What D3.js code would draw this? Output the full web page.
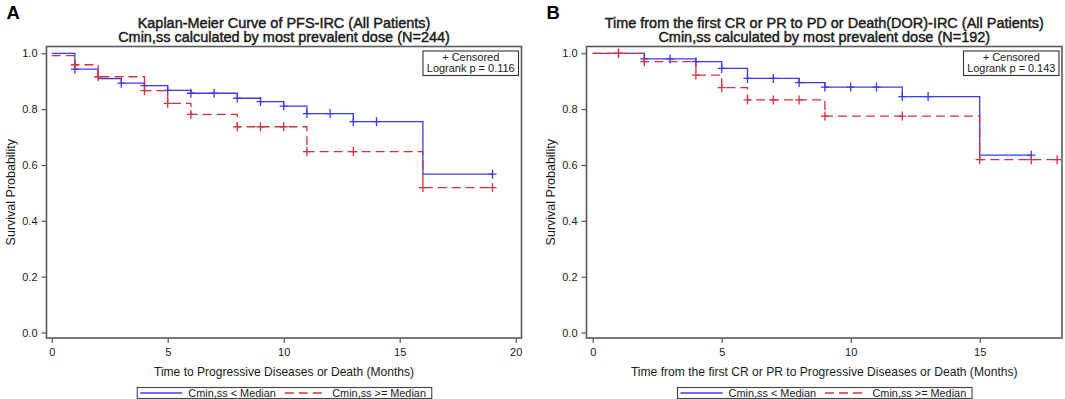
<!DOCTYPE html>
<html>
<head>
<meta charset="utf-8">
<script src="https://cdn.jsdelivr.net/npm/d3@7"></script>
<style>
  body { margin: 0; background: #fff; }
  text { font-family: "Liberation Sans", Arial, sans-serif; fill: #1a1a1a; }
</style>
</head>
<body>
<div id="chart"></div>
<script>
// ---- Panel A : PFS-IRC (step starts, survival level from that time on; last entry = end of follow-up)
const pfsLowTime = [0, 1, 2, 3, 4, 5, 6, 8, 9, 10, 11, 13, 16, 19]
const pfsLowSurv = [1.000, 0.943, 0.909, 0.893, 0.884, 0.867, 0.857, 0.839, 0.827, 0.811, 0.784, 0.755, 0.567, 0.567]
const pfsLowCens = [1, 3, 4, 5, 6, 7, 8, 9, 10, 11, 12, 13, 14, 19]

const pfsHighTime = [0, 1, 2, 4, 5, 6, 8, 11, 16, 19]
const pfsHighSurv = [0.992, 0.959, 0.916, 0.866, 0.821, 0.781, 0.737, 0.648, 0.519, 0.519]
const pfsHighCens = [1, 2, 4, 5, 6, 8, 9, 10, 11, 13, 16, 19]

// ---- Panel B : DOR-IRC
const dorLowTime = [0, 2, 4, 5, 6, 8, 9, 12, 15, 17]
const dorLowSurv = [1.000, 0.980, 0.970, 0.946, 0.910, 0.895, 0.879, 0.845, 0.635, 0.635]
const dorLowCens = [1, 2, 3, 4, 5, 6, 7, 8, 9, 10, 11, 12, 13, 17]

const dorHighTime = [0, 2, 4, 5, 6, 9, 15, 18]
const dorHighSurv = [1.000, 0.970, 0.922, 0.877, 0.833, 0.775, 0.619, 0.619]
const dorHighCens = [1, 2, 4, 5, 6, 7, 8, 9, 12, 15, 17, 18]

const groupNames = ["Cmin,ss < Median", "Cmin,ss >= Median"]
const yTicks = [0, 0.2, 0.4, 0.6, 0.8, 1.0]
const pfsXTicks = [0, 5, 10, 15, 20]
const dorXTicks = [0, 5, 10, 15]

const panels = [
  {
    letter: "A",
    title: ["Kaplan-Meier Curve of PFS-IRC (All Patients)", "Cmin,ss calculated by most prevalent dose (N=244)"],
    xLabel: "Time to Progressive Diseases or Death (Months)",
    pvalue: "Logrank p = 0.116",
    xMax: 20, xTicks: pfsXTicks,
    left: 46.5, right: 521.5, padL: 5.2, padR: 5.8,
    series: [
      { time: pfsLowTime, surv: pfsLowSurv, cens: pfsLowCens, g: 0 },
      { time: pfsHighTime, surv: pfsHighSurv, cens: pfsHighCens, g: 1 }
    ]
  },
  {
    letter: "B",
    title: ["Time from the first CR or PR to PD or Death(DOR)-IRC (All Patients)", "Cmin,ss calculated by most prevalent dose (N=192)"],
    xLabel: "Time from the first CR or PR to Progressive Diseases or Death (Months)",
    pvalue: "Logrank p = 0.143",
    xMax: 18, xTicks: dorXTicks,
    left: 586.5, right: 1062, padL: 6.2, padR: 4.9,
    series: [
      { time: dorLowTime, surv: dorLowSurv, cens: dorLowCens, g: 0 },
      { time: dorHighTime, surv: dorHighSurv, cens: dorHighCens, g: 1 }
    ]
  }
]

const colors = ["#3b3bf2", "#dc2f3c"]
const dashes = [null, "9,5"]

drawChart("#chart")

function drawChart(id){
  const canvas = createCanvas()
  const svg = addSvg(id, canvas)
  panels.forEach(p => drawPanel(svg, p, canvas))
}

function createCanvas(){
  return { width: 1065, height: 399, top: 46.5, bottom: 338, yTop: 53.3, yBottom: 332.5 }
}

function addSvg(id, canvas){
  return d3.select(id).append("svg")
    .attr("width", canvas.width).attr("height", canvas.height)
    .attr("viewBox", `0 0 ${canvas.width} ${canvas.height}`)
}

// scale font-size so that a text spans the width
function fitWidth(sel, w){
  const len = sel.node().getComputedTextLength()
  const fs = parseFloat(sel.attr("font-size"))
  sel.attr("font-size", (fs * w / len).toFixed(2))
}

function drawPanel(svg, p, canvas){
  const g = svg.append("g")
  const cx = (p.left + p.right) / 2

  const x = d3.scaleLinear().domain([0, p.xMax]).range([p.left + p.padL, p.right - p.padR])
  const y = d3.scaleLinear().domain([0, 1]).range([canvas.yBottom, canvas.yTop])

  // panel letter
  g.append("text").attr("x", p.left - 40).attr("y", 18.5)
    .attr("font-size", 18.5).attr("font-weight", "bold").style("fill", "#000").text(p.letter)

  // titles
  const t1 = g.append("text").attr("x", cx).attr("y", 27.5).attr("text-anchor", "middle")
    .attr("font-size", 14).style("stroke", "#1a1a1a").style("stroke-width", 0.45).text(p.title[0])
  const t2 = g.append("text").attr("x", cx).attr("y", 41.8).attr("text-anchor", "middle")
    .attr("font-size", 14).style("stroke", "#1a1a1a").style("stroke-width", 0.45).text(p.title[1])
  fitWidth(t2, 332)
  t1.attr("font-size", t2.attr("font-size"))

  // axes
  const xAxis = g.append("g").attr("transform", `translate(0,${canvas.bottom})`)
    .call(d3.axisBottom(x).tickValues(p.xTicks).tickSize(5).tickPadding(5).tickSizeOuter(0))
  const yAxis = g.append("g").attr("transform", `translate(${p.left},0)`)
    .call(d3.axisLeft(y).tickValues(yTicks).tickFormat(d3.format(".1f")).tickSize(5).tickPadding(4).tickSizeOuter(0))
  ;[xAxis, yAxis].forEach(a => {
    a.select(".domain").remove()
    a.selectAll(".tick line").attr("stroke", "#555").attr("stroke-width", 1.2)
    a.selectAll(".tick text").attr("font-size", 11).attr("font-family", null).style("fill", "#1a1a1a")
  })

  // frame
  g.append("rect").attr("x", p.left).attr("y", canvas.top)
    .attr("width", p.right - p.left).attr("height", canvas.bottom - canvas.top)
    .attr("fill", "none").attr("stroke", "#5a5a5a").attr("stroke-width", 1.6)

  // axis titles
  const xl = g.append("text").attr("x", cx).attr("y", 375.5).attr("text-anchor", "middle")
    .attr("font-size", 13).text(p.xLabel)
  fitWidth(xl, p.letter === "A" ? 260 : 387)

  g.append("text").attr("transform", `translate(${p.left - 31.5},${(canvas.top + canvas.bottom) / 2}) rotate(-90)`)
    .attr("text-anchor", "middle").attr("font-size", 12.5).text("Survival Probability")

  // survival curves
  const line = d3.line().x(d => x(d[0])).y(d => y(d[1])).curve(d3.curveStepAfter)
  p.series.forEach(s => {
    const pts = s.time.map((t, i) => [t, s.surv[i]])
    g.append("path").datum(pts).attr("d", line)
      .attr("fill", "none").attr("stroke", colors[s.g]).attr("stroke-width", 1.3)
      .attr("stroke-dasharray", dashes[s.g])

    // censor marks sit on the level in force at that time
    const level = t => s.surv[d3.bisectRight(s.time, t) - 1]
    g.append("g").selectAll("path").data(s.cens).join("path")
      .attr("d", t => `M${x(t) - 4},${y(level(t))}H${x(t) + 4}M${x(t)},${y(level(t)) - 4.5}V${y(level(t)) + 4.5}`)
      .attr("stroke", colors[s.g]).attr("stroke-width", 1.3).attr("fill", "none")
  })

  // censored / p-value box
  const bw = 95.5, bx = p.right - 3 - bw
  g.append("rect").attr("x", bx).attr("y", 51).attr("width", bw).attr("height", 24.5)
    .attr("fill", "#fff").attr("stroke", "#333").attr("stroke-width", 1.1)
  g.append("text").attr("x", bx + bw / 2).attr("y", 61).attr("text-anchor", "middle")
    .attr("font-size", 11).text("+ Censored")
  const pv = g.append("text").attr("x", bx + bw / 2).attr("y", 72).attr("text-anchor", "middle")
    .attr("font-size", 11).text(p.pvalue)
  fitWidth(pv, 88)

  // legend
  const lw = 294.5, lx = cx - lw / 2 + 0.5, ly = 387.5
  const lg = g.append("g")
  lg.append("rect").attr("x", lx).attr("y", ly).attr("width", lw).attr("height", 11)
    .attr("fill", "#fff").attr("stroke", "#444").attr("stroke-width", 1.1)
  const itemX = [[3, 45, 51], [147.5, 189.5, 195]]
  groupNames.forEach((name, i) => {
    lg.append("line").attr("x1", lx + itemX[i][0]).attr("x2", lx + itemX[i][1])
      .attr("y1", ly + 5.5).attr("y2", ly + 5.5)
      .attr("stroke", colors[i]).attr("stroke-width", 1.3).attr("stroke-dasharray", dashes[i])
    const lt = lg.append("text").attr("x", lx + itemX[i][2]).attr("y", ly + 9.6)
      .attr("font-size", 10.8).text(name)
    fitWidth(lt, i === 0 ? 87.6 : 93.8)
  })
}
</script>
</body>
</html>
